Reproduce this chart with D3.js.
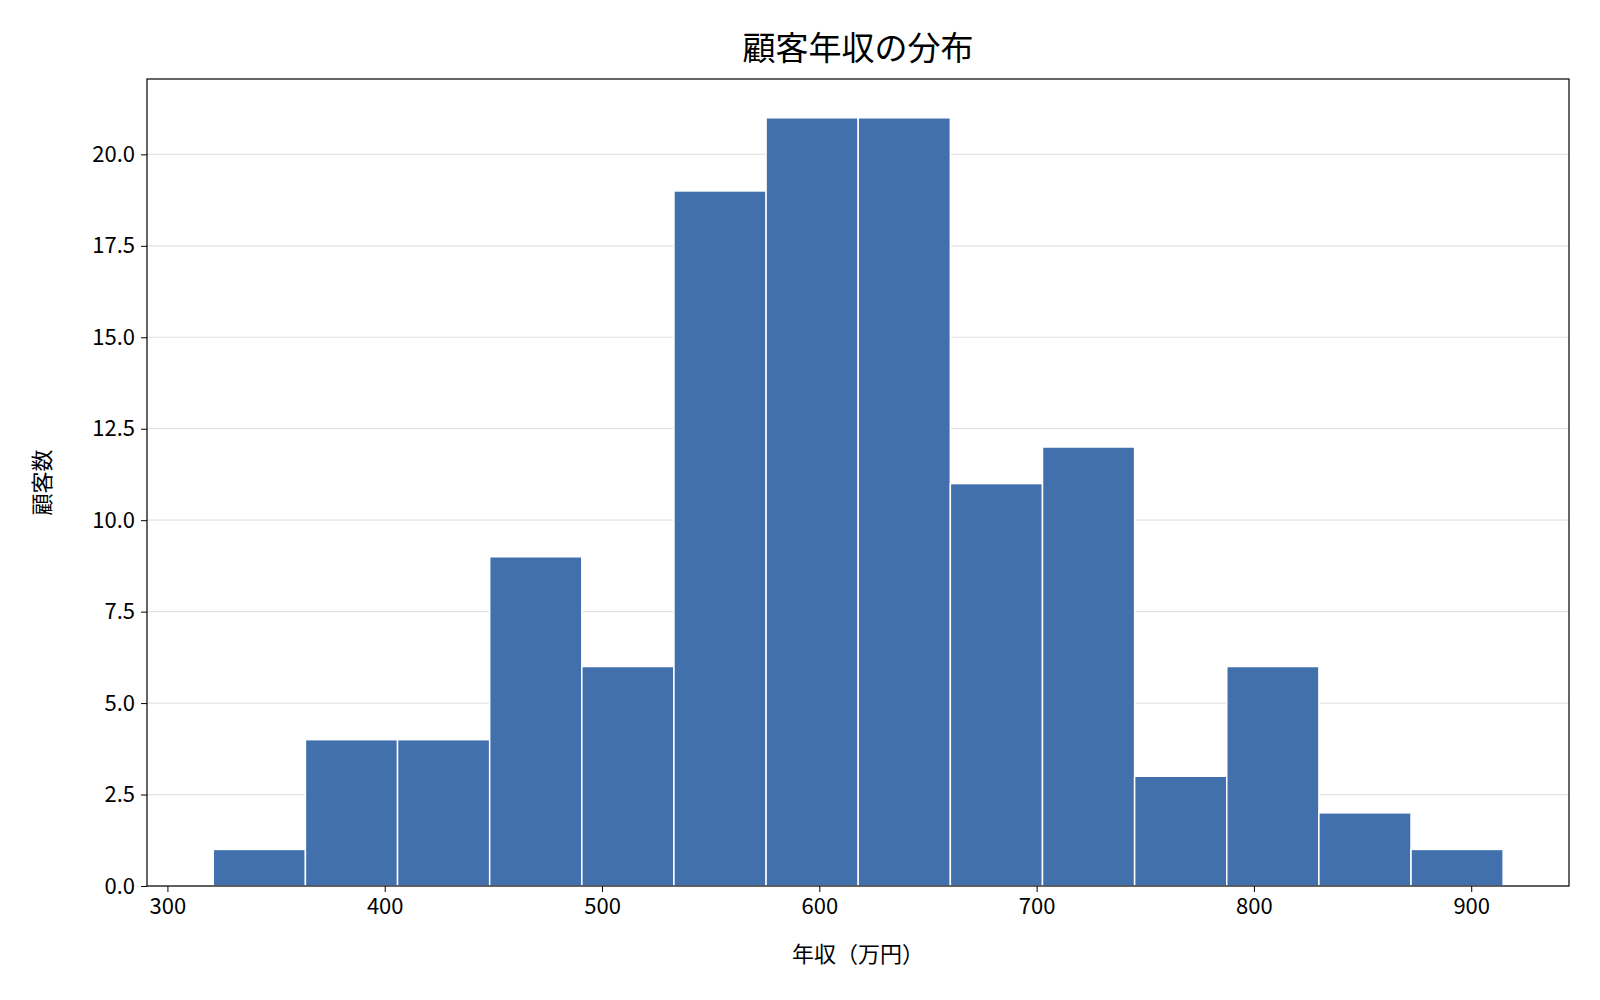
<!DOCTYPE html>
<html><head><meta charset="utf-8">
<script src="https://cdn.jsdelivr.net/npm/d3@7"></script>
<style>body{margin:0;background:#fff}text{font-family:"Noto Sans CJK JP","Noto Sans",sans-serif}</style>
</head><body><svg id="chart" width="1600" height="1000"></svg>
<script>
// histogram bins (万円) and counts
const binStart = 321.1, binWidth = 42.4;
const counts = [1, 4, 4, 9, 6, 19, 21, 21, 11, 12, 3, 6, 2, 1];
const xTicks = [300, 400, 500, 600, 700, 800, 900];
const yTicks = [0, 2.5, 5, 7.5, 10, 12.5, 15, 17.5, 20];

const m = {l: 147, r: 31, t: 79, b: 114};
const W = 1600, H = 1000;
const svg = d3.select("#chart");
const x = d3.scaleLinear().domain([290.6, 945]).range([m.l, W - m.r]);
const y = d3.scaleLinear().domain([0, 22.06]).range([H - m.b, m.t]);

// grid
svg.append("g").selectAll("line").data(yTicks).enter().append("line")
  .attr("x1", m.l).attr("x2", W - m.r).attr("y1", d => y(d)).attr("y2", d => y(d))
  .attr("stroke", "#e3e3e3").attr("stroke-width", 1.2);

svg.append("g").selectAll("rect").data(counts).enter().append("rect")
  .attr("x", (d, i) => x(binStart + i * binWidth))
  .attr("width", x(binStart + binWidth) - x(binStart))
  .attr("y", d => y(d)).attr("height", d => y(0) - y(d))
  .attr("fill", "#4170ad").attr("stroke", "#fff").attr("stroke-width", 1.5);

svg.append("rect").attr("x", m.l).attr("y", m.t).attr("width", W - m.l - m.r).attr("height", H - m.t - m.b)
  .attr("fill", "none").attr("stroke", "#000").attr("stroke-width", 1.2);

const xa = svg.append("g").attr("transform", `translate(0,${H - m.b})`)
  .call(d3.axisBottom(x).tickValues(xTicks).tickSizeOuter(0).tickSize(6).tickPadding(6));
const ya = svg.append("g").attr("transform", `translate(${m.l},0)`)
  .call(d3.axisLeft(y).tickValues(yTicks).tickFormat(d3.format(".1f")).tickSizeOuter(0).tickSize(6).tickPadding(6));
[xa, ya].forEach(a => { a.select(".domain").remove(); a.selectAll("text").attr("font-size", 22).attr("fill", "#000"); a.selectAll("line").attr("stroke", "#000"); });

svg.append("text").attr("x", (m.l + W - m.r) / 2).attr("y", 60).attr("text-anchor", "middle")
  .attr("font-size", 33).text("顧客年収の分布");
svg.append("text").attr("x", (m.l + W - m.r) / 2).attr("y", 962).attr("text-anchor", "middle")
  .attr("font-size", 22).text("年収（万円）");
svg.append("text").attr("transform", `translate(50,${(m.t + H - m.b) / 2}) rotate(-90)`).attr("text-anchor", "middle")
  .attr("font-size", 22).text("顧客数");
</script></body></html>
